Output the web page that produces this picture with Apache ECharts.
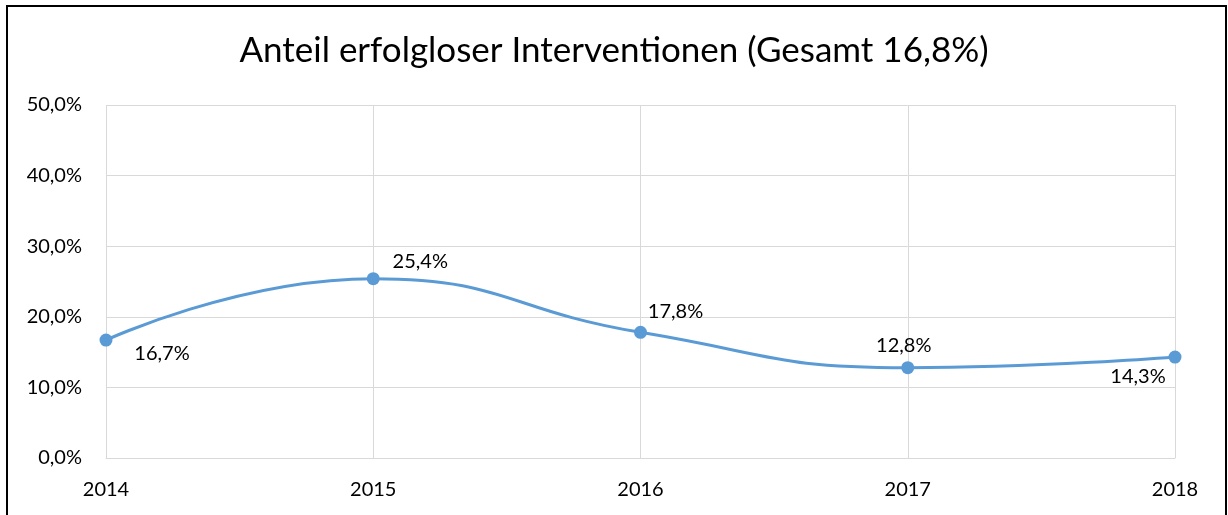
<!DOCTYPE html>
<html><head><meta charset="utf-8">
<script src="https://cdn.jsdelivr.net/npm/echarts@6/dist/echarts.min.js"></script>
<style>html,body{margin:0;padding:0;background:#fff}#c{width:1228px;height:515px}</style>
</head><body><div id="c"></div>
<script>
const years = ['2014','2015','2016','2017','2018'];
const shares = [16.7, 25.4, 17.8, 12.8, 14.3];
const labelOffsets = [[56,13],[47,-17],[35,-21],[-4,-22],[-37,20]];
const titleText = 'Anteil erfolgloser Interventionen (Gesamt 16,8%)';
const F = 'Lato, "Open Sans", sans-serif';
const chart = echarts.init(document.getElementById('c'));
chart.setOption({
  animation:false,
  graphic:[{type:'rect',shape:{x:7,y:6,width:1219,height:530},style:{fill:'none',stroke:'#000',lineWidth:2},silent:true}],
  title:{text:titleText,left:'center',top:28,textStyle:{fontFamily:F,fontSize:35,fontWeight:'normal',color:'#000'}},
  grid:{left:106,right:53,top:105,bottom:57},
  xAxis:{type:'category',data:years,boundaryGap:false,
    axisLine:{lineStyle:{color:'#d9d9d9',width:1}},axisTick:{show:false},
    splitLine:{show:true,lineStyle:{color:'#d9d9d9',width:1}},
    axisLabel:{fontFamily:F,fontSize:20,color:'#000',margin:22}},
  yAxis:{type:'value',min:0,max:50,interval:10,
    axisLine:{show:false},axisTick:{show:false},
    splitLine:{lineStyle:{color:'#d9d9d9',width:1}},
    axisLabel:{fontFamily:F,fontSize:20,color:'#000',margin:24,formatter:v=>v.toFixed(1).replace('.',',')+'%'}},
  series:[{type:'line',smooth:0.5,data:shares.map((v,i)=>({value:v,label:{offset:labelOffsets[i]}})),
    symbol:'circle',symbolSize:13,
    lineStyle:{color:'#5b9bd5',width:3},itemStyle:{color:'#5b9bd5'},
    label:{show:true,position:'inside',fontFamily:F,fontSize:20,color:'#000',
      formatter:p=>p.value.toFixed(1).replace('.',',')+'%'}}]
});
</script></body></html>
